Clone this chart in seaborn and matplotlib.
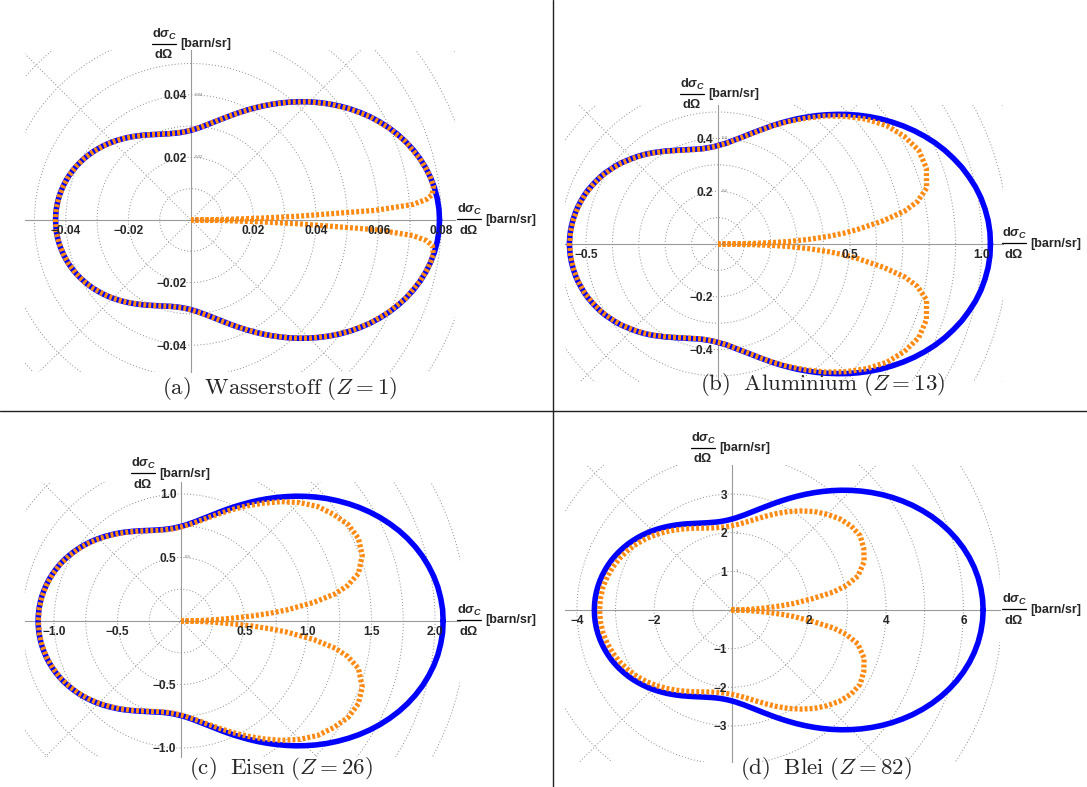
import numpy as np
import matplotlib
matplotlib.use("Agg")
import matplotlib.pyplot as plt
from matplotlib.patches import Circle
from matplotlib.lines import Line2D
from matplotlib.ticker import MultipleLocator
import seaborn as sns

sns.set_theme(style="white")
plt.rcParams["font.family"] = ["Liberation Sans", "DejaVu Sans"]
plt.rcParams["mathtext.fontset"] = "custom"
plt.rcParams["mathtext.rm"] = "Liberation Sans:bold"
plt.rcParams["mathtext.bf"] = "Liberation Sans:bold"
plt.rcParams["mathtext.it"] = "Liberation Sans:bold:italic"
plt.rcParams["mathtext.sf"] = "Liberation Sans:bold"

# ---------------------------------------------------------------- data
# scattering angle grids in degrees
theta_total = [2.5 * i for i in range(73)]
theta_incoh = [0, 0.5, 1, 1.5, 2, 3, 4, 5, 6, 8, 10, 12] + list(range(15, 181, 5))

# Klein-Nishina cross section (free electrons), barn/sr, on theta_total
total_H = [0.07940, 0.07930, 0.07898, 0.07846, 0.07774, 0.07683, 0.07573, 0.07446, 0.07303,
           0.07145, 0.06974, 0.06792, 0.06600, 0.06399, 0.06193, 0.05981, 0.05767, 0.05552,
           0.05338, 0.05126, 0.04917, 0.04713, 0.04516, 0.04327, 0.04146, 0.03975, 0.03814,
           0.03664, 0.03526, 0.03400, 0.03286, 0.03185, 0.03097, 0.03021, 0.02957, 0.02905,
           0.02866, 0.02838, 0.02821, 0.02814, 0.02817, 0.02830, 0.02851, 0.02881, 0.02918,
           0.02961, 0.03010, 0.03065, 0.03124, 0.03187, 0.03252, 0.03321, 0.03390, 0.03461,
           0.03533, 0.03604, 0.03674, 0.03743, 0.03810, 0.03874, 0.03936, 0.03994, 0.04049,
           0.04099, 0.04146, 0.04187, 0.04223, 0.04255, 0.04281, 0.04301, 0.04315, 0.04324,
           0.04327]
total_Al = [1.032, 1.031, 1.027, 1.020, 1.011, 0.999, 0.984, 0.968, 0.949, 0.929, 0.907,
            0.883, 0.858, 0.832, 0.805, 0.778, 0.750, 0.722, 0.694, 0.666, 0.639, 0.613,
            0.587, 0.563, 0.539, 0.517, 0.496, 0.476, 0.458, 0.442, 0.427, 0.414, 0.403,
            0.393, 0.384, 0.378, 0.373, 0.369, 0.367, 0.366, 0.366, 0.368, 0.371, 0.375,
            0.379, 0.385, 0.391, 0.398, 0.406, 0.414, 0.423, 0.432, 0.441, 0.450, 0.459,
            0.468, 0.478, 0.487, 0.495, 0.504, 0.512, 0.519, 0.526, 0.533, 0.539, 0.544,
            0.549, 0.553, 0.556, 0.559, 0.561, 0.562, 0.563]
total_Fe = [2.064, 2.062, 2.053, 2.040, 2.021, 1.997, 1.969, 1.936, 1.899, 1.858, 1.813,
            1.766, 1.716, 1.664, 1.610, 1.555, 1.500, 1.444, 1.388, 1.333, 1.278, 1.225,
            1.174, 1.125, 1.078, 1.033, 0.992, 0.953, 0.917, 0.884, 0.854, 0.828, 0.805,
            0.785, 0.769, 0.755, 0.745, 0.738, 0.733, 0.732, 0.732, 0.736, 0.741, 0.749,
            0.759, 0.770, 0.783, 0.797, 0.812, 0.829, 0.846, 0.863, 0.881, 0.900, 0.918,
            0.937, 0.955, 0.973, 0.990, 1.007, 1.023, 1.039, 1.053, 1.066, 1.078, 1.089,
            1.098, 1.106, 1.113, 1.118, 1.122, 1.124, 1.125]
total_Pb = [6.511, 6.502, 6.476, 6.434, 6.375, 6.300, 6.210, 6.106, 5.988, 5.859, 5.719,
            5.569, 5.412, 5.247, 5.078, 4.905, 4.729, 4.553, 4.377, 4.203, 4.032, 3.865,
            3.703, 3.548, 3.400, 3.259, 3.127, 3.005, 2.891, 2.788, 2.695, 2.612, 2.539,
            2.477, 2.425, 2.382, 2.350, 2.327, 2.313, 2.307, 2.310, 2.321, 2.338, 2.362,
            2.392, 2.428, 2.468, 2.513, 2.562, 2.613, 2.667, 2.723, 2.780, 2.838, 2.897,
            2.955, 3.013, 3.069, 3.124, 3.177, 3.227, 3.275, 3.320, 3.362, 3.399, 3.433,
            3.463, 3.489, 3.510, 3.527, 3.539, 3.546, 3.548]

# incoherent scattering on bound electrons, barn/sr, on theta_incoh
incoh_H = [0.0, 0.003, 0.011, 0.022, 0.034, 0.059, 0.071, 0.0755, 0.0775, 0.0782, 0.0777, 0.0770,
           0.0757, 0.0730, 0.0697, 0.0660, 0.0619, 0.0577, 0.0534, 0.0492, 0.0452, 0.0415,
           0.0381, 0.0353, 0.0329, 0.0310, 0.0296, 0.0287, 0.0282, 0.0282, 0.0285, 0.0292,
           0.0301, 0.0312, 0.0325, 0.0339, 0.0353, 0.0367, 0.0381, 0.0394, 0.0405, 0.0415,
           0.0422, 0.0428, 0.0432, 0.0433]
incoh_Al = [0.0, 0.052, 0.134, 0.206, 0.268, 0.350, 0.422, 0.483, 0.533, 0.632, 0.718, 0.772,
            0.818, 0.840, 0.839, 0.815, 0.781, 0.735, 0.684, 0.633, 0.582, 0.536, 0.495,
            0.457, 0.426, 0.402, 0.383, 0.372, 0.366, 0.365, 0.370, 0.378, 0.390, 0.405,
            0.422, 0.440, 0.458, 0.477, 0.494, 0.511, 0.525, 0.538, 0.548, 0.555, 0.560, 0.562]
incoh_Fe = [0.0, 0.041, 0.103, 0.165, 0.248, 0.392, 0.556, 0.708, 0.840, 1.058, 1.233, 1.341,
            1.447, 1.519, 1.541, 1.519, 1.465, 1.403, 1.319, 1.227, 1.133, 1.048, 0.970,
            0.901, 0.843, 0.797, 0.763, 0.740, 0.729, 0.728, 0.738, 0.756, 0.781, 0.810,
            0.843, 0.878, 0.915, 0.952, 0.988, 1.021, 1.051, 1.076, 1.096, 1.111, 1.120, 1.123]
incoh_Pb = [0.0, 0.065, 0.195, 0.325, 0.456, 0.748, 1.038, 1.328, 1.615, 2.119, 2.678, 3.031,
            3.384, 3.653, 3.775, 3.843, 3.783, 3.665, 3.502, 3.326, 3.129, 2.941, 2.753,
            2.582, 2.434, 2.316, 2.231, 2.178, 2.156, 2.162, 2.195, 2.254, 2.332, 2.425,
            2.531, 2.644, 2.761, 2.877, 2.990, 3.091, 3.184, 3.263, 3.328, 3.377, 3.404, 3.413]

# axis ticks and their labels
xticks_H = [-0.04, -0.02, 0.02, 0.04, 0.06, 0.08]
xlabels_H = ["−0.04", "−0.02", "0.02", "0.04", "0.06", "0.08"]
yticks_H = [-0.04, -0.02, 0.02, 0.04]
ylabels_H = ["−0.04", "−0.02", "0.02", "0.04"]
xticks_Al = [-0.5, 0.5, 1.0]
xlabels_Al = ["−0.5", "0.5", "1.0"]
yticks_Al = [-0.4, -0.2, 0.2, 0.4]
ylabels_Al = ["−0.4", "−0.2", "0.2", "0.4"]
xticks_Fe = [-1.0, -0.5, 0.5, 1.0, 1.5, 2.0]
xlabels_Fe = ["−1.0", "−0.5", "0.5", "1.0", "1.5", "2.0"]
yticks_Fe = [-1.0, -0.5, 0.5, 1.0]
ylabels_Fe = ["−1.0", "−0.5", "0.5", "1.0"]
xticks_Pb = [-4, -2, 2, 4, 6]
xlabels_Pb = ["−4", "−2", "2", "4", "6"]
yticks_Pb = [-3, -2, -1, 1, 2, 3]
ylabels_Pb = ["−3", "−2", "−1", "1", "2", "3"]

captions = [r"$\mathrm{(a)\ \ Wasserstoff\ (}Z\mathrm{{=}1)}$",
            r"$\mathrm{(b)\ \ Aluminium\ (}Z\mathrm{{=}13)}$",
            r"$\mathrm{(c)\ \ Eisen\ (}Z\mathrm{{=}26)}$",
            r"$\mathrm{(d)\ \ Blei\ (}Z\mathrm{{=}82)}$"]

# ---------------------------------------------------------------- layout (pixels)
W, H = 1087, 787
panels = [
    dict(total=total_H, incoh=incoh_H, origin=(191, 220), scale=3130, box=(25, 50, 455, 372),
         ring=0.01, nring=11, xt=xticks_H, xl=xlabels_H, yt=yticks_H, yl=ylabels_H,
         xminor=0.005, yminor=0.005, polar_marks=["0.04", "0.02"], polar_vals=[0.04, 0.02],
         cap=(280, 388), ylab=(164, 43.5), xlab=(469, 219)),
    dict(total=total_Al, incoh=incoh_Al, origin=(718, 244), scale=264, box=(565, 105, 1003, 382),
         ring=0.1, nring=13, xt=xticks_Al, xl=xlabels_Al, yt=yticks_Al, yl=ylabels_Al,
         xminor=0.1, yminor=0.05, polar_marks=["0.4", "0.2"], polar_vals=[0.4, 0.2],
         cap=(823, 385), ylab=(692, 93.5), xlab=(1014, 243)),
    dict(total=total_Fe, incoh=incoh_Fe, origin=(181, 621), scale=127, box=(25, 482, 460, 757),
         ring=0.25, nring=11, xt=xticks_Fe, xl=xlabels_Fe, yt=yticks_Fe, yl=ylabels_Fe,
         xminor=0.1, yminor=0.1, polar_marks=["0.5"], polar_vals=[0.5],
         cap=(281, 768), ylab=(143, 473), xlab=(469, 620)),
    dict(total=total_Pb, incoh=incoh_Pb, origin=(731.5, 610), scale=38.65, box=(565, 465, 1000, 762),
         ring=1.0, nring=9, xt=xticks_Pb, xl=xlabels_Pb, yt=yticks_Pb, yl=ylabels_Pb,
         xminor=0.5, yminor=0.2, polar_marks=["1", "2"], polar_vals=[1, 2],
         cap=(826, 768), ylab=(703, 447.5), xlab=(1014, 609)),
]

BLUE = "#0000ff"
ORANGE = "#ff8a12"
GRID = "#8c8c8c"

fig = plt.figure(figsize=(W / 100, H / 100), dpi=100)
fig.patch.set_facecolor("white")


def fx(px):
    return px / W


def fy(py):
    return 1 - py / H


def mirrored(theta_deg, r):
    t = np.asarray(theta_deg, float)
    rr = np.asarray(r, float)
    th = np.deg2rad(np.concatenate([t, -t[::-1]]))
    rr = np.concatenate([rr, rr[::-1]])
    return rr * np.cos(th), rr * np.sin(th)


def quantity_label(xc, yc):
    """dσ_C/dΩ fraction centred on (xc, yc) in pixels, followed by the unit."""
    fig.text(fx(xc), fy(yc - 9.5), r"$\mathrm{d}\mathit{\sigma}_{\mathit{C}}$",
             fontsize=9.2, ha="center", va="center")
    fig.add_artist(Line2D([fx(xc - 12), fx(xc + 12)], [fy(yc), fy(yc)], color="black", lw=0.9))
    fig.text(fx(xc), fy(yc + 11.5), r"$\mathrm{d}\Omega$", fontsize=9.2, ha="center", va="center")
    fig.text(fx(xc + 16), fy(yc + 0.5), "[barn/sr]", fontsize=9, fontweight="bold",
             ha="left", va="center")


for p in panels:
    ox, oy = p["origin"]
    s = p["scale"]
    l, t, r, b = p["box"]
    ax = fig.add_axes([fx(l), fy(b), (r - l) / W, (b - t) / H])
    ax.set_facecolor("none")
    ax.set_xlim((l - ox) / s, (r - ox) / s)
    ax.set_ylim((oy - b) / s, (oy - t) / s)

    # polar grid: rings and diagonal spokes
    for k in range(1, p["nring"] + 1):
        ax.add_patch(Circle((0, 0), k * p["ring"], fill=False, ec=GRID, lw=0.7,
                            ls=(0, (1, 2.2)), zorder=0.5))
    R = p["nring"] * p["ring"]
    for ang in (45, 135):
        a = np.deg2rad(ang)
        ax.plot([-R * np.cos(a), R * np.cos(a)], [-R * np.sin(a), R * np.sin(a)],
                color=GRID, lw=0.7, ls=(0, (1, 2.2)), zorder=0.5)

    # cross sections
    xb, yb = mirrored(theta_total, p["total"])
    sns.lineplot(x=xb, y=yb, sort=False, estimator=None, color=BLUE, lw=4.0, ax=ax, zorder=2)
    xo, yo = mirrored(theta_incoh, p["incoh"])
    sns.lineplot(x=xo, y=yo, sort=False, estimator=None, color=ORANGE, lw=3.8, ax=ax, zorder=2.2,
                 linestyle=(0, (0.55, 0.4)), dash_capstyle="butt")

    # axes through the origin
    for side in ("top", "right"):
        ax.spines[side].set_visible(False)
    ax.spines["left"].set_position(("data", 0))
    ax.spines["bottom"].set_position(("data", 0))
    for side in ("left", "bottom"):
        ax.spines[side].set_color("#9a9a9a")
        ax.spines[side].set_linewidth(0.8)
        ax.spines[side].set_zorder(1)
    ax.set_axisbelow(False)
    ax.set_xticks(p["xt"])
    ax.set_xticklabels(p["xl"], fontweight="bold", fontsize=8.6)
    ax.set_yticks(p["yt"])
    ax.set_yticklabels(p["yl"], fontweight="bold", fontsize=8.6)
    ax.xaxis.set_minor_locator(MultipleLocator(p["xminor"]))
    ax.yaxis.set_minor_locator(MultipleLocator(p["yminor"]))
    ax.tick_params(which="major", length=3.5, width=0.6, color="#8a8a8a", pad=1.5, direction="inout")
    ax.tick_params(which="minor", length=2, width=0.5, color="#9a9a9a", direction="inout")
    ax.grid(False)

    # small radius marks of the polar grid
    for txt, v in zip(p["polar_marks"], p["polar_vals"]):
        ax.text(4 / s, v, txt, fontsize=3.2, color="#777777", va="center", ha="left")
    ax.text(4 / s, 0, "0", fontsize=3.2, color="#777777", va="center", ha="left")

    quantity_label(*p["ylab"])
    quantity_label(*p["xlab"])

for cap, p in zip(captions, panels):
    fig.text(fx(p["cap"][0]), fy(p["cap"][1]), cap, fontsize=16.5, ha="center", va="center",
             math_fontfamily="cm")

# panel separators
fig.add_artist(Line2D([0, 1], [fy(411), fy(411)], color="#222222", lw=1.0))
fig.add_artist(Line2D([fx(553), fx(553)], [0, 1], color="#222222", lw=1.0))

fig.savefig("out.png", dpi=100, facecolor="white")
